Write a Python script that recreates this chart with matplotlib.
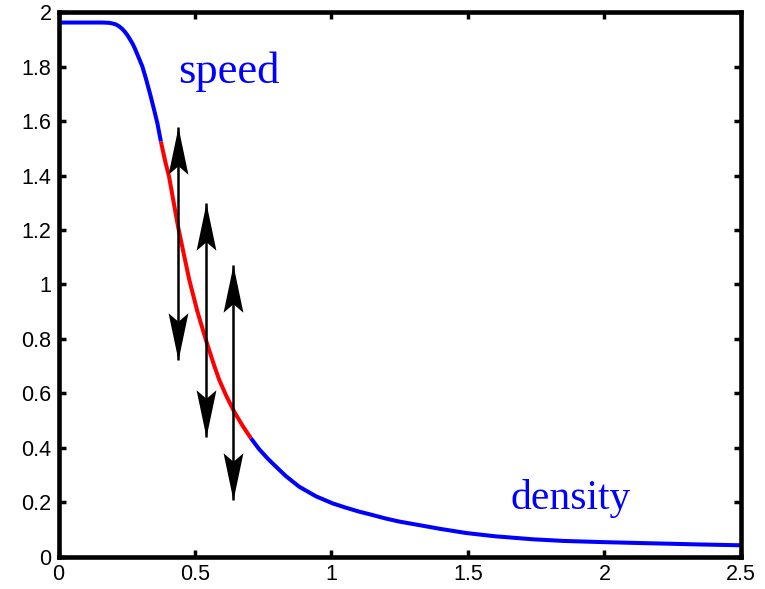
import matplotlib.pyplot as plt
from matplotlib.path import Path

# speed vs density curve
# blue part before the red stretch
x_blue1 = [0.0, 0.10, 0.16, 0.185, 0.20, 0.21, 0.222, 0.234, 0.243, 0.252, 0.262,
           0.271, 0.28, 0.29, 0.307, 0.32, 0.338, 0.35, 0.362, 0.375]
y_blue1 = [1.962, 1.962, 1.962, 1.961, 1.958, 1.955, 1.948, 1.938, 1.928, 1.916, 1.900,
           1.885, 1.866, 1.842, 1.801, 1.757, 1.690, 1.642, 1.593, 1.525]

# red stretch
x_red = [0.375, 0.39, 0.405, 0.42, 0.438, 0.46, 0.479, 0.509, 0.540, 0.57, 0.589,
         0.615, 0.644, 0.675, 0.705]
y_red = [1.525, 1.456, 1.396, 1.312, 1.212, 1.107, 1.017, 0.900, 0.796, 0.703, 0.649,
         0.590, 0.532, 0.480, 0.435]

# blue tail
x_blue2 = [0.705, 0.735, 0.766, 0.784, 0.833, 0.882, 0.943, 1.004, 1.05, 1.10, 1.151,
           1.20, 1.249, 1.322, 1.40, 1.494, 1.60, 1.738, 1.85, 1.983, 2.10, 2.227,
           2.35, 2.5]
y_blue2 = [0.435, 0.395, 0.361, 0.343, 0.296, 0.257, 0.222, 0.196, 0.181, 0.166, 0.153,
           0.140, 0.129, 0.116, 0.102, 0.087, 0.075, 0.064, 0.058, 0.054, 0.051, 0.048,
           0.045, 0.042]

# double headed arrows
arrow_x = [0.438, 0.540, 0.641]
arrow_top = [1.580, 1.298, 1.072]
arrow_bottom = [0.722, 0.440, 0.208]

x_ticks = [0, 0.5, 1, 1.5, 2, 2.5]
x_ticklabels = ['0', '0.5', '1', '1.5', '2', '2.5']
y_ticks = [0, 0.2, 0.4, 0.6, 0.8, 1.0, 1.2, 1.4, 1.6, 1.8, 2.0]
y_ticklabels = ['0', '0.2', '0.4', '0.6', '0.8', '1', '1.2', '1.4', '1.6', '1.8', '2']

fig = plt.figure(figsize=(7.65, 5.89), dpi=100)
ax = fig.add_axes([0.0765, 0.0548, 0.892, 0.9245])

ax.plot(x_blue1, y_blue1, color='blue', lw=2.9, solid_capstyle='butt')
ax.plot(x_red, y_red, color='red', lw=2.9, solid_capstyle='butt')
ax.plot(x_blue2, y_blue2, color='blue', lw=2.9, solid_capstyle='butt')

# arrow heads as custom markers, tip sits on the data point
up_head = Path([(0, 0), (-0.21, -1), (0, -0.82), (0.21, -1), (0, 0)],
               [Path.MOVETO, Path.LINETO, Path.LINETO, Path.LINETO, Path.CLOSEPOLY])
down_head = Path([(0, 0), (-0.21, 1), (0, 0.82), (0.21, 1), (0, 0)],
                 [Path.MOVETO, Path.LINETO, Path.LINETO, Path.LINETO, Path.CLOSEPOLY])

ax.vlines(arrow_x, arrow_bottom, arrow_top, color='black', lw=1.8)
ax.plot(arrow_x, arrow_top, ls='none', marker=up_head, ms=68, color='black', mew=0)
ax.plot(arrow_x, arrow_bottom, ls='none', marker=down_head, ms=68, color='black', mew=0)

ax.text(0.44, 1.74, 'speed', color='blue', fontsize=32, family='Liberation Serif',
        ha='left', va='baseline')
ax.text(1.655, 0.177, 'density', color='blue', fontsize=30, family='Liberation Serif',
        ha='left', va='baseline')

ax.set_xlim(0, 2.5)
ax.set_ylim(0, 2)
ax.set_xticks(x_ticks)
ax.set_xticklabels(x_ticklabels)
ax.set_yticks(y_ticks)
ax.set_yticklabels(y_ticklabels)
ax.tick_params(direction='in', length=5, width=2.5, top=True, right=True,
               labelsize=15.5, pad=5)
for lab in ax.get_xticklabels() + ax.get_yticklabels():
    lab.set_family('Liberation Sans')
for sp in ax.spines.values():
    sp.set_linewidth(3.3)

fig.savefig('out.png', dpi=100)
